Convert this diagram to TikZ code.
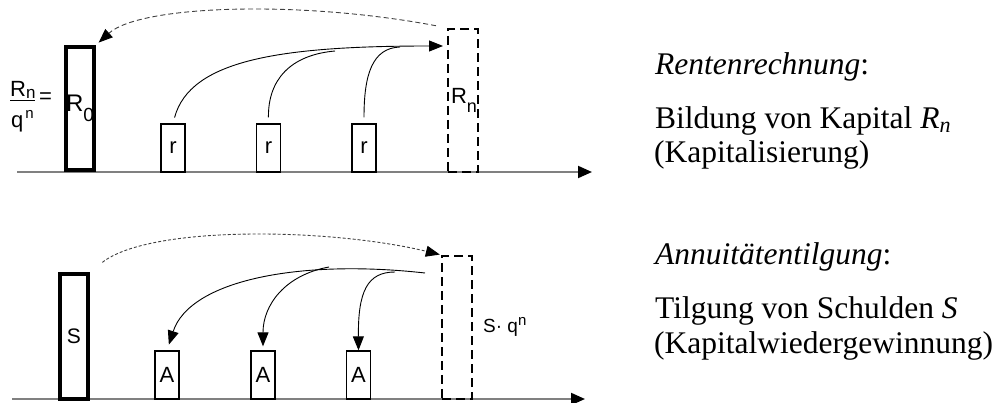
\documentclass[tikz,border=0pt]{standalone}
\usepackage{fontspec}
\setmainfont{Liberation Serif}
\newfontfamily\arialf{Liberation Sans}
\usetikzlibrary{arrows.meta}
\newcommand\subR[3]{R\raisebox{-#1}{\fontsize{#2}{#2}\selectfont #3}}
\newcommand\highsup[1]{\raisebox{0.42em}{\fontsize{15}{15}\selectfont #1}}
\tikzset{
  lab/.style={font=\arialf\fontsize{22}{26}\selectfont},
  thickbox/.style={draw, line width=3.5pt, fill=white, minimum width=28pt, inner sep=0pt, lab},
  smallbox/.style={draw, line width=1.3pt, fill=white, minimum width=24pt, minimum height=48pt, inner sep=0pt, lab},
  dbox/.style={draw, line width=2.4pt, dash pattern=on 9pt off 5pt, minimum width=30pt, minimum height=143pt, inner sep=0pt, lab},
  axisline/.style={draw=black!50, line width=2pt, -{Triangle[length=14pt,width=12pt,color=black]}},
  flow/.style={line width=0.9pt, -{Triangle[length=14pt,width=11pt]}},
  plain/.style={line width=0.9pt},
  backtop/.style={draw=black!75, line width=0.9pt, dash pattern=on 5pt off 3pt, -{Triangle[length=14pt,width=11pt,color=black]}},
  backbot/.style={draw=black!75, line width=0.9pt, dash pattern=on 3pt off 2pt, -{Triangle[length=14pt,width=11pt,color=black]}},
  rtext/.style={anchor=base west, inner sep=0pt, font=\fontsize{31.5}{36}\selectfont},
}
\begin{document}
\begin{tikzpicture}[x=1pt,y=-1pt]
\useasboundingbox (0,0) rectangle (999,403);

% ---------------- top part ----------------
\coordinate (ax1s) at (17,172);
\coordinate (ax1e) at (592,172);
\draw[axisline] (ax1s) -- (ax1e);

\node[thickbox, minimum height=123pt, font=\arialf\fontsize{24}{28}\selectfont] (R0) at (80,108.5) {\subR{0.42em}{19}{0}};
\node[smallbox] (r1) at (173,148) {r};
\node[smallbox] (r2) at (268.5,148) {r};
\node[smallbox] (r3) at (364,148) {r};
\node[dbox] (Rn) at (463,100.5) {\hspace*{2pt}\subR{0.4em}{18}{n}};

% fraction R_n / q^n =
\node[lab, inner sep=0pt, anchor=base west] (fnum) at (10,97) {\subR{0.05em}{17}{n}};
\node[lab, inner sep=0pt, anchor=base west] (fden) at (11,128) {q\hspace{2pt}\highsup{n}};
\node[lab, inner sep=0pt, anchor=base west] (feq) at (39,104) {=};
\coordinate (fl1) at (10,100.5);
\coordinate (fl2) at (35,100.5);
\draw[line width=0.9pt] (fl1) -- (fl2);

\coordinate (Rin) at (443,46);
\coordinate (m2) at (335,51);
\coordinate (m3) at (400,47);
\draw[flow, shorten <=6pt] (r1.north) .. controls (190,60) and (280,46) .. (Rin);
\draw[plain, shorten <=6pt] (r2.north) .. controls (268,80) and (290,55) .. (m2);
\draw[plain, shorten <=6pt] (r3.north) .. controls (364,75) and (372,48) .. (m3);

\draw[backtop, shorten <=11pt, shorten >=4pt] (Rn.north west) .. controls (300,0) and (140,5) .. (R0.north east);

% ---------------- bottom part ----------------
\coordinate (ax2s) at (12,399);
\coordinate (ax2e) at (585,399);
\draw[axisline] (ax2s) -- (ax2e);

\node[thickbox, minimum height=125pt, font=\arialf\fontsize{21}{25}\selectfont] (S) at (74,336.5) {S};
\node[smallbox] (A1) at (167,375) {A};
\node[smallbox] (A2) at (263,375) {A};
\node[smallbox] (A3) at (358.5,375) {A};
\node[dbox] (Sq) at (457,327.5) {};
\node[font=\arialf\fontsize{19}{22}\selectfont, anchor=base west, inner sep=0pt] (Sqlab) at (483,333) {S\textperiodcentered\ q\highsup{n}};

\coordinate (b0) at (425,273);
\coordinate (b2) at (329,267);
\coordinate (b3) at (395,272);
\draw[flow, shorten >=6pt] (b0) .. controls (300,259) and (190,280) .. (A1.north);
\draw[flow, shorten >=4pt] (b2) .. controls (285,275) and (263,305) .. (A2.north);
\draw[flow, shorten >=0pt] (b3) .. controls (367,272) and (358,292) .. (A3.north);

\draw[backbot, shorten <=16pt, shorten >=1pt] (S.north east) .. controls (150,225) and (330,228) .. (Sq.north west);

% ---------------- texts ----------------
\node[rtext] (t1) at (655,75) {\textit{Rentenrechnung}:};
\node[rtext] (t2) at (655,129) {Bildung von Kapital \textit{R}\textsubscript{\textit{n}}};
\node[rtext] (t3) at (654,163) {(Kapitalisierung)};
\node[rtext] (t4) at (655,265) {\textit{Annuitätentilgung}:};
\node[rtext] (t5) at (655,319) {Tilgung von Schulden \textit{S}};
\node[rtext] (t6) at (654,353) {(Kapitalwiedergewinnung)};
\end{tikzpicture}
\end{document}
